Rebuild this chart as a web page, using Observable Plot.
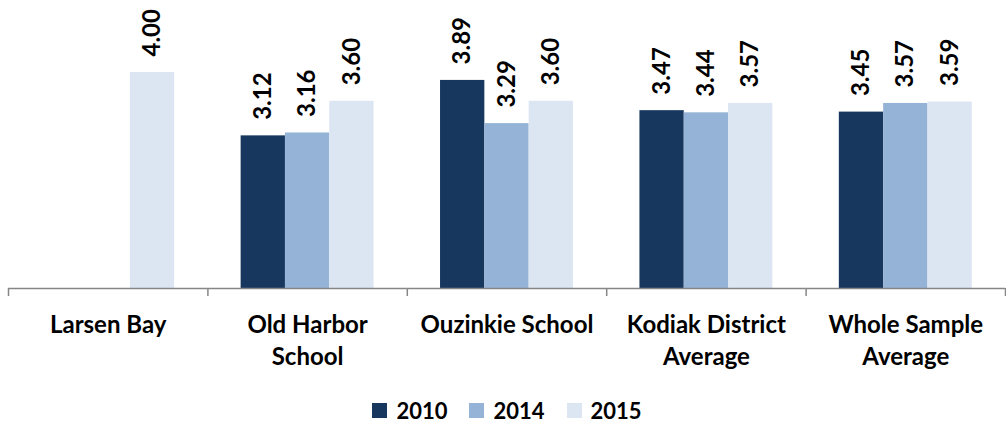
<!DOCTYPE html>
<html>
<head>
<meta charset="utf-8">
<script src="https://cdn.jsdelivr.net/npm/d3@7"></script>
<script src="https://cdn.jsdelivr.net/npm/@observablehq/plot@0.6"></script>
<style>
  html, body { margin: 0; padding: 0; background: #fff; }
  #chart { width: 1006px; }
  .legend { display: flex; justify-content: center; align-items: center; margin-top: 13px; height: 24px;
    font-family: Lato, "Open Sans", sans-serif; font-weight: bold; font-size: 22px; color: #000; padding-left: 8px; }
  .legend .item { display: flex; align-items: center; margin: 0 11px; }
  .legend .sw { width: 15px; height: 15px; margin-right: 9px; }
</style>
</head>
<body>
<div id="chart"></div>
<script>
const categories = ["Larsen Bay", "Old Harbor School", "Ouzinkie School", "Kodiak District Average", "Whole Sample Average"];
const categoryLabels = ["Larsen Bay", "Old Harbor\nSchool", "Ouzinkie School", "Kodiak District\nAverage", "Whole Sample\nAverage"];
const years = ["2010", "2014", "2015"];
const values2010 = [null, 3.12, 3.89, 3.47, 3.45];
const values2014 = [null, 3.16, 3.29, 3.44, 3.57];
const values2015 = [4.00, 3.60, 3.60, 3.57, 3.59];
const colors = ["#17375E", "#95B3D7", "#DCE6F2"];

const series = [values2010, values2014, values2015];
const data = [];
categories.forEach((c, i) => {
  years.forEach((y, j) => {
    const v = series[j][i];
    if (v != null) data.push({category: c, year: y, value: v});
  });
});

const W = 1006, H = 385, ML = 8, MR = 1, MT = 0, MB = 97;
const facetW = (W - ML - MR) / categories.length;
const pad = 0.75;
const step = facetW / (years.length + 2 * pad);
const edge = step * (pad + 0.5);
const axisColor = "#868686";

const chart = Plot.plot({
  width: W,
  height: H,
  marginLeft: ML,
  marginRight: MR,
  marginTop: MT,
  marginBottom: MB,
  style: {fontFamily: "Lato, 'Open Sans', sans-serif", fontWeight: "bold", fontSize: "24px", color: "#000", background: "#fff"},
  fx: {domain: categories, padding: 0, round: false, label: null},
  x: {domain: years, paddingInner: 0, paddingOuter: pad, round: false, axis: null},
  y: {domain: [1, 5], axis: null},
  color: {domain: years, range: colors},
  marks: [
    Plot.barY(data, {fx: "category", x: "year", y1: 1, y2: "value", fill: "year"}),
    Plot.text(data, {fx: "category", x: "year", y: "value", text: d => d.value.toFixed(2),
      rotate: -90, textAnchor: "start", lineAnchor: "middle", dy: -16, fontSize: 24, fontWeight: "bold", fill: "#000"}),
    Plot.ruleY([1], {stroke: axisColor, strokeWidth: 1.5}),
    Plot.ruleX(categories, {fx: d => d, x: () => years[0], y1: 1, y2: 1, insetBottom: -8, dx: -edge, stroke: axisColor, strokeWidth: 1.5}),
    Plot.ruleX([categories[categories.length - 1]], {fx: d => d, x: () => years[years.length - 1], y1: 1, y2: 1, insetBottom: -8, dx: edge, stroke: axisColor, strokeWidth: 1.5}),
    Plot.axisFx({anchor: "bottom", tickSize: 0, tickPadding: 22, lineHeight: 1.34, fontSize: 24,
      tickFormat: d => categoryLabels[categories.indexOf(d)], label: null})
  ]
});
document.getElementById("chart").appendChild(chart);

const legend = document.createElement("div");
legend.className = "legend";
years.forEach((y, j) => {
  const item = document.createElement("div");
  item.className = "item";
  const sw = document.createElement("span");
  sw.className = "sw";
  sw.style.background = colors[j];
  const t = document.createElement("span");
  t.textContent = y;
  item.appendChild(sw);
  item.appendChild(t);
  legend.appendChild(item);
});
document.body.appendChild(legend);
</script>
</body>
</html>
